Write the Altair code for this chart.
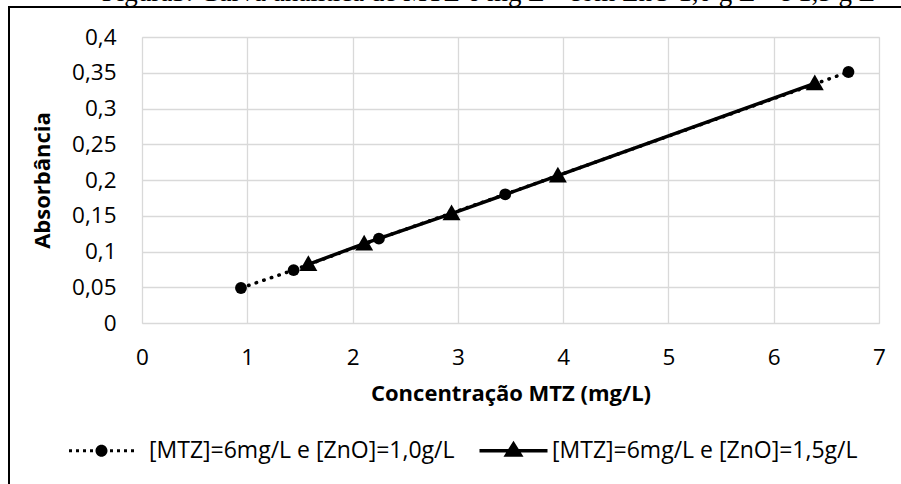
import altair as alt
import pandas as pd

# ---- data ----
series_names = ["[MTZ]=6mg/L e [ZnO]=1,0g/L", "[MTZ]=6mg/L e [ZnO]=1,5g/L"]
x_s1 = [0.94, 1.44, 2.25, 3.45, 6.71]
y_s1 = [0.049, 0.074, 0.118, 0.180, 0.351]
x_s2 = [1.58, 2.11, 2.94, 3.95, 6.39]
y_s2 = [0.082, 0.111, 0.153, 0.206, 0.335]
x_ticks = [0, 1, 2, 3, 4, 5, 6, 7]
y_ticks = [0, 0.05, 0.1, 0.15, 0.2, 0.25, 0.3, 0.35, 0.4]
fig_title = "Figura3: Curva analítica de MTZ 6 mg L⁻¹ com ZnO 1,0 g L⁻¹ e 1,5 g L⁻¹"

df = pd.DataFrame({
    "x": x_s1 + x_s2,
    "y": y_s1 + y_s2,
    "series": [series_names[0]] * len(x_s1) + [series_names[1]] * len(x_s2),
})
one = pd.DataFrame({"t": [fig_title]})
# legend-only rows, placed outside the y domain and clipped away
leg_df = pd.DataFrame({"series": series_names, "x": [0, 0], "y": [-1, -1]})

FONT = "Open Sans"
GRID = "#d9d9d9"
LBL = 22.5

tri_path = "M0,-1L1,0.75L-1,0.75Z"
# legend symbol 1: dotted line with circle (drawn slightly left of its origin)
c1 = -0.5
circ = f"M{c1 - 0.6:.2f},0a0.6,0.6 0 1,0 1.2,0a0.6,0.6 0 1,0 -1.2,0Z"
dots = "".join(
    f"M{c1 + c - 0.15:.2f},-0.15h0.3v0.3h-0.3Z" for c in [-3.1, -2.4, -1.7, -1.0, 1.0, 1.7, 2.4, 3.1]
)
leg1 = dots + circ
# legend symbol 2: solid line with triangle (drawn slightly right of its origin)
c2 = 0.4
leg2 = (f"M{c2 - 3.4:.2f},-0.18h6.8v0.36h-6.8Z"
        f"M{c2:.2f},-1L{c2 + 1:.2f},0.6L{c2 - 1:.2f},0.6Z")

xscale = alt.Scale(domain=[0, 7], nice=False, zero=False)
yscale = alt.Scale(domain=[0, 0.4], nice=False)

xax = alt.X("x:Q", scale=xscale, title="Concentração MTZ (mg/L)",
            axis=alt.Axis(values=x_ticks, grid=True, gridColor=GRID, gridWidth=1.3,
                          domain=False, ticks=False, labelFont=FONT, labelFontSize=LBL,
                          labelColor="black", labelPadding=23, titleFont=FONT,
                          titleFontSize=22, titleFontWeight="bold", titleColor="black",
                          titlePadding=15, labelFlush=False))
yax = alt.Y("y:Q", scale=yscale, title="Absorbância",
            axis=alt.Axis(values=y_ticks, grid=True, gridColor=GRID, gridWidth=1.3,
                          domain=False, ticks=False, labelFont=FONT, labelFontSize=LBL,
                          labelColor="black", labelPadding=26,
                          labelExpr="replace(format(datum.value, '.2~f'), '.', ',')",
                          titleFont=FONT, titleFontSize=22, titleFontWeight="bold",
                          titleColor="black", titlePadding=17, labelFlush=False))

base = alt.Chart(df)
s1 = base.transform_filter(alt.datum.series == series_names[0])
s2 = base.transform_filter(alt.datum.series == series_names[1])

line1 = s1.mark_line(color="black", strokeWidth=3.5, strokeDash=[0.5, 7.5],
                     strokeCap="round").encode(x=xax, y=yax)
line2 = s2.mark_line(color="black", strokeWidth=3.5).encode(x=xax, y=yax)
pts1 = s1.mark_point(filled=True, color="black", opacity=1, size=140,
                     shape="circle").encode(x=xax, y=yax)
pts2 = s2.mark_point(filled=True, color="black", opacity=1, size=324,
                     shape=tri_path).encode(x=xax, y=yax)

legend_layer = alt.Chart(leg_df).mark_point(filled=True, color="black", opacity=1,
                                            clip=True, size=400).encode(
    x=xax, y=yax,
    shape=alt.Shape(
        "series:N",
        scale=alt.Scale(domain=series_names, range=[leg1, leg2]),
        legend=alt.Legend(
            title=None, orient="none", direction="horizontal", legendX=-69, legendY=402,
            labelFont=FONT, labelFontSize=23, labelColor="black", labelLimit=600,
            symbolSize=400, symbolOffset=22, labelOffset=31, columnPadding=21,
            symbolFillColor="black", symbolStrokeWidth=0, symbolOpacity=1,
        ),
    ),
)

frame_top = alt.Chart(one).mark_rule(color="black", strokeWidth=2).encode(
    x=alt.value(-133), x2=alt.value(800), y=alt.value(-30))
frame_left = alt.Chart(one).mark_rule(color="black", strokeWidth=2).encode(
    x=alt.value(-133), y=alt.value(-31), y2=alt.value(460))
title_txt = alt.Chart(one).mark_text(font="Liberation Serif", fontSize=27, baseline="alphabetic",
                                     align="center", color="black").encode(
    x=alt.value(355), y=alt.value(-36), text="t:N")

chart = alt.layer(line1, line2, pts1, pts2, legend_layer, frame_top, frame_left, title_txt).properties(
    width=737, height=286,
    padding={"left": 142, "top": 37, "right": 22, "bottom": 161},
    autosize=alt.AutoSizeParams(type="none"),
).configure_view(stroke=None).configure(background="white")

chart.save("out.html", embed_options={"renderer": "svg", "actions": False})
